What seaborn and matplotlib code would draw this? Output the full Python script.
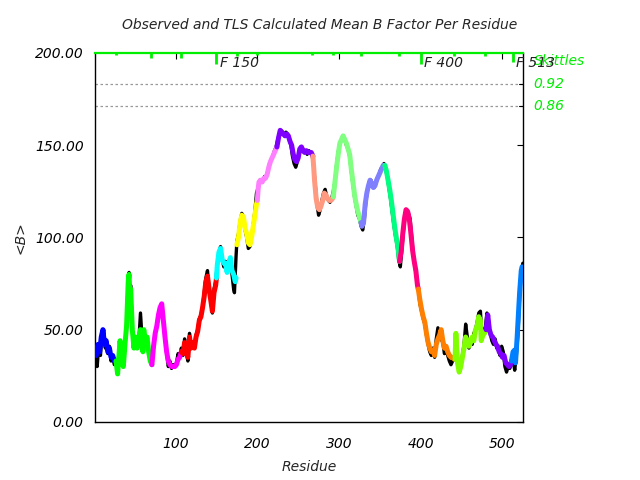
import matplotlib
matplotlib.use("Agg")
import matplotlib.pyplot as plt
import seaborn as sns
import numpy as np

# ---------------- data ----------------
obs_res = [1, 3, 4, 6, 8, 10, 12, 14, 15, 17, 19, 21, 23, 25, 27, 29, 31, 32, 34, 36, 38, 40, 42, 43, 44, 45, 47, 49,
           51, 53, 55, 57, 58, 60, 61, 63, 65, 67, 69, 71, 73, 75, 77, 79, 81, 83, 85, 87, 89, 91, 93, 95, 97, 99,
           101, 103, 105, 107, 109, 111, 113, 115, 117, 119, 121, 123, 125, 127, 129, 131, 133, 135, 137, 139, 141,
           143, 145, 147, 149, 151, 153, 155, 157, 159, 161, 163, 165, 167, 169, 171, 172, 174, 175, 177, 179, 181,
           183, 185, 187, 189, 191, 193, 195, 197, 199, 201, 203, 205, 207, 209, 211, 213, 215, 217, 219, 221, 223,
           225, 227, 229, 231, 233, 235, 237, 239, 241, 243, 245, 247, 249, 251, 253, 255, 257, 259, 261, 263, 265,
           267, 269, 271, 273, 275, 277, 279, 281, 283, 285, 287, 289, 291, 293, 295, 297, 299, 301, 303, 305, 307,
           309, 311, 313, 315, 317, 319, 321, 323, 325, 327, 329, 331, 333, 335, 337, 339, 341, 343, 345, 347, 349,
           351, 353, 355, 357, 359, 361, 363, 365, 367, 369, 371, 373, 375, 377, 379, 381, 383, 385, 387, 389, 391,
           393, 395, 397, 399, 401, 403, 405, 407, 409, 411, 413, 415, 417, 419, 421, 423, 425, 427, 429, 431, 433,
           435, 437, 439, 441, 443, 445, 447, 449, 451, 453, 455, 457, 459, 461, 463, 465, 467, 469, 471, 473, 475,
           477, 479, 481, 483, 485, 487, 489, 491, 493, 495, 497, 499, 501, 503, 505, 507, 509, 511, 513, 515, 517,
           519, 521, 523, 525]
obs_val = [40, 33, 30, 42, 36, 48, 50, 40, 44, 37, 41, 33, 36, 31, 33, 28, 40, 44, 33, 30, 42, 52, 78, 81, 70, 74, 50, 40,
           46, 40, 44, 59, 52, 38, 50, 43, 46, 38, 33, 31, 41, 48, 52, 58, 61, 64, 55, 46, 38, 30, 33, 29, 31, 30,
           32, 37, 35, 40, 36, 45, 38, 33, 48, 40, 43, 40, 47, 50, 56, 58, 62, 70, 78, 82, 72,
           66, 59, 72, 76, 85, 92, 95, 88, 84, 87, 81, 87, 89, 80, 72, 70, 90, 98, 102, 109, 113,
           111, 104, 100, 94, 95, 100, 107, 114, 124, 127, 131, 130, 131, 133, 133, 136, 140, 142, 144, 147, 149,
           153, 156, 158, 157, 155, 157, 156, 153, 150, 144, 140, 138, 141, 146, 149, 148, 146, 147, 145, 147, 146,
           145, 138, 128, 118, 112, 115, 120, 124, 126, 122, 120, 119, 121, 125, 130, 139, 146, 151, 153, 155, 153,
           150, 148, 144, 136, 129, 122, 117, 112, 110, 106, 104, 110, 120, 126, 130, 131, 129, 127, 129, 132, 134,
           137, 138, 140, 137, 133, 127, 121, 114, 107, 101, 96, 88, 84, 94, 104, 112, 115, 113, 110, 100, 90,
           84, 78, 72, 64, 60, 56, 53, 47, 42, 38, 36, 40, 35, 45, 51, 48, 45, 43, 37, 40, 36,
           33, 31, 33, 34, 38, 32, 29, 31, 36, 42, 53, 46, 40, 44, 42, 48, 50, 54, 59, 60, 46,
           50, 51, 59, 52, 48, 44, 42, 45, 40, 39, 36, 41, 38, 30, 27, 30, 29, 32, 34, 28, 36,
           48, 68, 82, 86]

calc_res = [1, 3, 5, 7, 9, 11, 13, 15, 17, 19, 21, 23, 25, 27,
            29, 31, 32, 34, 36, 38, 40, 42, 43, 44, 45, 47, 49, 51, 53, 55, 57, 58, 60, 61, 63, 65, 67, 69, 71,
            73, 75, 77, 79, 81, 83, 85, 87, 89, 91, 93, 95, 97, 99, 101, 103, 105, 107,
            109, 111, 113, 115, 117, 119, 121, 123, 125, 127, 129, 131, 133, 135, 137, 139, 141, 143, 145, 147, 149, 150,
            151, 153, 155, 157, 159, 161, 163, 165, 167, 169, 171, 173, 174,
            175, 177, 179, 181, 183, 185, 187, 189, 191, 193, 195, 197, 199, 200,
            201, 202, 204, 206, 208, 210, 212, 214, 216, 218, 220, 222, 224,
            226, 228, 230, 232, 234, 236, 238, 240, 242, 244, 246, 248, 250, 252, 254, 256, 258, 260, 262, 264, 266, 268,
            269, 270, 272, 274, 276, 278, 280, 282, 284, 286, 288, 290, 292, 293,
            295, 297, 299, 301, 303, 305, 307, 309, 311, 313, 315, 317, 319, 321, 323, 325, 327,
            328, 330, 332, 334, 336, 338, 340, 342, 344, 346, 348, 350, 352, 354, 356,
            358, 360, 362, 364, 366, 368, 370, 372, 374,
            376, 378, 380, 382, 384, 386, 388, 390, 392, 394, 396, 397,
            399, 401, 403, 405, 407, 409, 411, 413, 415, 417, 419, 421, 423, 425, 427, 429, 431, 433, 435, 437, 439, 441, 442,
            443, 445, 447, 449, 451, 453, 455, 457, 459, 461, 463, 465, 467, 469, 471, 473, 474, 476, 478, 480,
            482, 484, 486, 488, 490, 492, 494, 496, 498, 500, 502, 504, 506, 508, 510, 511,
            513, 515, 516, 518, 520, 521, 523, 524]
calc_val = [40, 36, 42, 38, 46, 50, 42, 44, 38, 40, 35, 36, 33, 33,
            26, 38, 44, 34, 30, 42, 52, 76, 80, 68, 72, 50, 40, 46, 40, 44, 50, 48, 38, 50, 43, 46, 38, 33, 31,
            41, 48, 52, 58, 62, 64, 55, 46, 38, 33, 31, 30, 30, 30, 31, 34, 35, 38,
            37, 43, 38, 35, 46, 40, 43, 40, 46, 49, 55, 57, 62, 68, 76, 79, 72, 66, 60, 70, 74, 78,
            85, 92, 94, 88, 86, 86, 81, 86, 89, 82, 80, 76, 78,
            96, 100, 108, 112, 111, 105, 102, 97, 96, 100, 106, 112, 118, 120,
            126, 130, 131, 130, 132, 132, 134, 138, 141, 143, 145, 147, 149,
            154, 158, 157, 156, 155, 156, 155, 152, 150, 145, 142, 141, 143, 148, 149, 147, 146, 147, 146, 146, 146, 144,
            138, 131, 121, 116, 115, 117, 120, 124, 123, 121, 120, 120, 121, 122,
            130, 138, 145, 151, 153, 155, 153, 151, 148, 145, 137, 130, 123, 118, 114, 111, 108,
            106, 108, 118, 124, 128, 131, 129, 127, 128, 131, 133, 135, 137, 139, 139,
            136, 131, 126, 120, 113, 106, 100, 95, 87,
            92, 102, 110, 115, 114, 110, 102, 93, 87, 82, 74, 72,
            66, 61, 57, 54, 48, 43, 40, 38, 39, 36, 42, 45, 47, 50, 44, 40, 41, 38, 36, 35, 35, 34, 34,
            48, 32, 27, 30, 35, 40, 46, 44, 41, 43, 46, 44, 50, 52, 57, 55, 44, 47, 48, 50,
            58, 50, 47, 46, 44, 42, 41, 38, 37, 35, 36, 32, 31, 30, 31, 33,
            38, 39, 32, 46, 62, 70, 82, 84]

seg_start = [1, 27, 71, 107, 150, 175, 200, 224, 268, 293, 327, 356, 374, 397, 442, 480, 511]
seg_end = [27, 71, 107, 150, 174, 200, 224, 268, 293, 327, 356, 374, 397, 442, 480, 511, 525]
seg_color = ["#0000ff", "#00ff00", "#ff00ff", "#ff0000", "#00ffff", "#ffff00", "#ff80ff", "#8000ff",
             "#ff9980", "#80ff80", "#8080ff", "#00ff80", "#ff0080", "#ff8000", "#80ff00", "#8000ff", "#0080ff"]

mark_res = [27, 70, 107, 150, 175, 200, 267, 293, 327, 374, 400, 441, 479, 513]
mark_len = [1.2, 2.8, 2.8, 6.0, 1.8, 1.2, 1.2, 1.2, 1.6, 1.6, 6.0, 1.6, 1.6, 5.0]
mark_labels = {150: "F 150", 400: "F 400", 513: "F 513"}

skittle_vals = [183.2, 171.3]
skittle_labels = ["0.92", "0.86"]

xticks = [100, 200, 300, 400, 500]
yticks = [0, 50, 100, 150, 200]

# ---------------- plot ----------------
sns.set_style("white")
plt.rcParams["font.family"] = ["DejaVu Sans"]
plt.rcParams["font.style"] = "italic"

fig = plt.figure(figsize=(6.4, 4.8), dpi=100)
ax = fig.add_axes([0.148, 0.121, 0.669, 0.769])

GREEN = "#00ee00"

for v in skittle_vals:
    ax.axhline(v, color="#999999", lw=0.9, ls=(0, (2, 2)), zorder=1)

sns.lineplot(x=obs_res, y=obs_val, color="black", linewidth=2.4, estimator=None, sort=False, ax=ax, zorder=2)

cr = np.array(calc_res)
cv = np.array(calc_val)
for s, e, c in zip(seg_start, seg_end, seg_color):
    m = (cr >= s) & (cr <= e)
    sns.lineplot(x=cr[m], y=cv[m], color=c, linewidth=3.6, estimator=None, sort=False, ax=ax, zorder=3)

ax.set_xlim(1, 525)
ax.set_ylim(0, 200)

for r, L in zip(mark_res, mark_len):
    ax.vlines(r, 200 - L, 200, color=GREEN, lw=2, zorder=5, clip_on=False)
    if r in mark_labels:
        ax.text(r + 4, 198.5, mark_labels[r], ha="left", va="top", fontsize=10, style="italic",
                color="#222222", zorder=6)

ax.set_xticks(xticks)
ax.set_xticklabels([str(t) for t in xticks])
ax.set_yticks(yticks)
ax.set_yticklabels([f"{t:.2f}" for t in yticks])
ax.tick_params(direction="in", length=4, width=0.8, labelsize=10, colors="black",
               top=True, right=True, pad=8)
ax.tick_params(axis="x", pad=11)

for side in ["left", "right", "bottom"]:
    ax.spines[side].set_color("black")
    ax.spines[side].set_linewidth(1.0)
ax.spines["top"].set_color(GREEN)
ax.spines["top"].set_linewidth(1.6)

trans = ax.get_yaxis_transform()
ax.text(1.025, 195.5, "Skittles", transform=trans, color=GREEN, fontsize=10, style="italic",
        ha="left", va="center", clip_on=False)
for v, lab in zip(skittle_vals, skittle_labels):
    ax.text(1.025, v, lab, transform=trans, color=GREEN, fontsize=10, style="italic",
            ha="left", va="center", clip_on=False)
    ax.plot([1.0, 0.992], [v, v], transform=trans, color="black", lw=0.8, clip_on=False)

ax.set_xlabel("Residue", fontsize=10, style="italic", labelpad=6)
ax.set_ylabel("<B>", fontsize=10, style="italic", labelpad=5)
fig.text(0.5, 0.947, "Observed and TLS Calculated Mean B Factor Per Residue", ha="center", va="center",
         fontsize=10, style="italic")

fig.savefig("out.png", dpi=100)
